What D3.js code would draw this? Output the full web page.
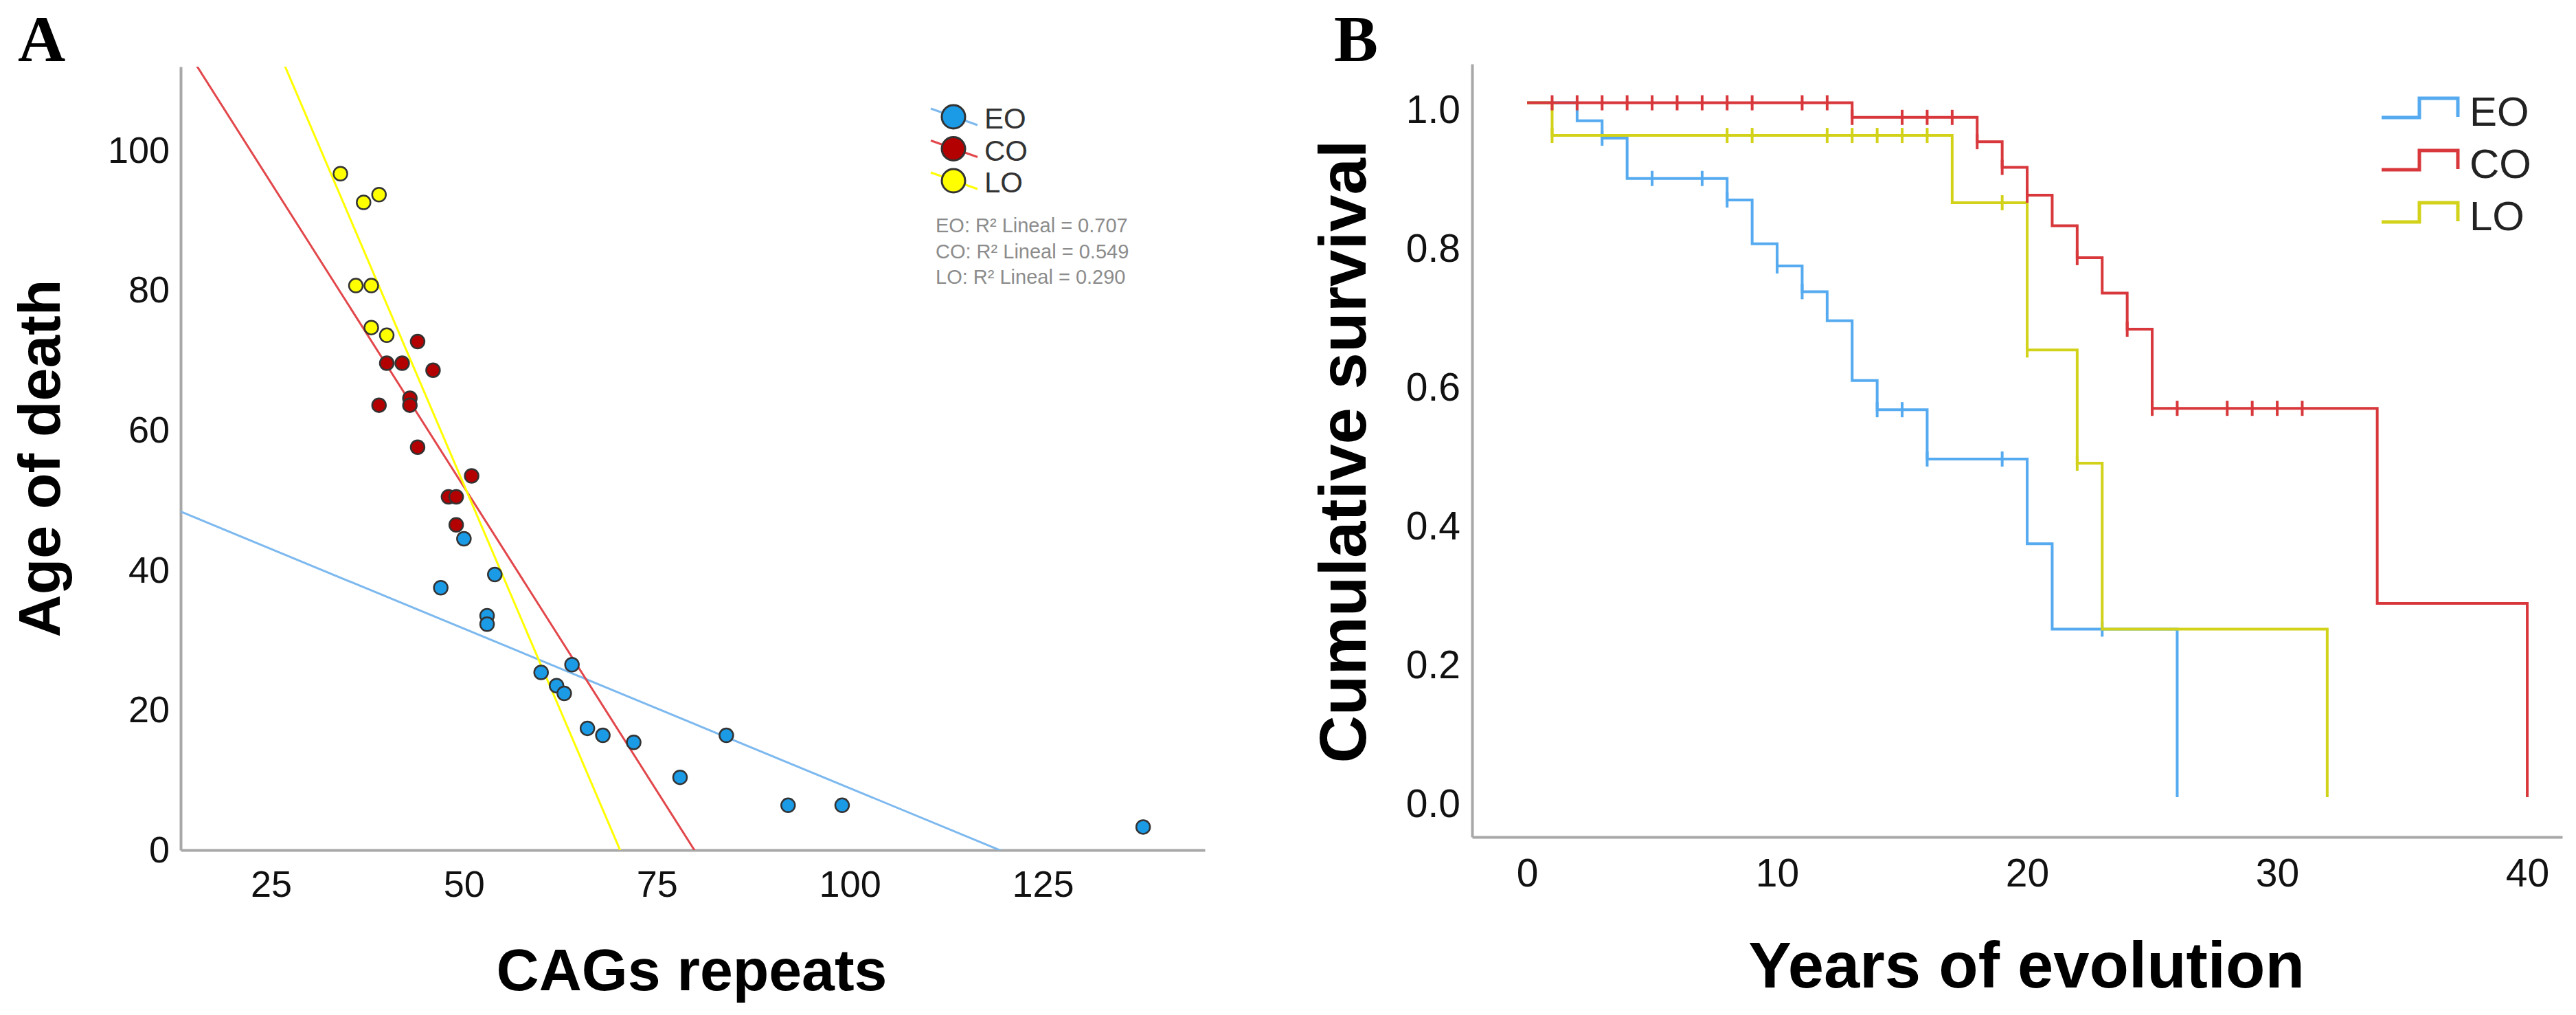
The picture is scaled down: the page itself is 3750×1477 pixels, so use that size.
<!DOCTYPE html>
<html>
<head>
<meta charset="utf-8">
<script src="https://cdn.jsdelivr.net/npm/d3@7"></script>
<style>
body { margin: 0; background: #fff; }
svg text { font-family: "Liberation Sans", Arial, sans-serif; }
</style>
</head>
<body>
<svg width="3750" height="1477"></svg>
<script>
// ---- Panel A data: CAG repeats vs age of death ----
let groupNames = ["EO", "CO", "LO"];

let eoCag = [50, 54, 47, 53, 53, 64, 60, 62, 63, 66, 68, 72, 84, 78, 92, 99, 138];
let eoAge = [44.5, 39.4, 37.5, 33.5, 32.3, 26.5, 25.4, 23.5, 22.4, 17.4, 16.4, 15.4, 16.4, 10.4, 6.4, 6.4, 3.3];

let coCag = [44, 40, 42, 46, 39, 43, 43, 44, 51, 48, 49, 49];
let coAge = [72.7, 69.6, 69.6, 68.6, 63.6, 64.6, 63.6, 57.6, 53.5, 50.5, 50.5, 46.5];

let loCag = [34, 37, 39, 36, 38, 38, 40];
let loAge = [96.7, 92.6, 93.7, 80.7, 80.7, 74.7, 73.6];

let r2Values = ["0.707", "0.549", "0.290"];

let cagTicks = [25, 50, 75, 100, 125];
let ageTicks = [0, 20, 40, 60, 80, 100];

// ---- Panel B data: Kaplan-Meier steps (time, survival after the step) ----
let eoTimes = [0, 2, 3, 4, 8, 9, 10, 11, 12, 13, 14, 16, 20, 21, 26];
let eoSurv = [1, 0.974, 0.949, 0.891, 0.86, 0.797, 0.765, 0.728, 0.686, 0.6, 0.558, 0.487, 0.365, 0.242, 0];
let eoCensor = [3, 5, 7, 8, 10, 11, 14, 15, 16, 19, 23];

let coTimes = [0, 13, 18, 19, 20, 21, 22, 23, 24, 25, 34, 40];
let coSurv = [1, 0.979, 0.944, 0.907, 0.867, 0.823, 0.777, 0.726, 0.674, 0.56, 0.279, 0];
let coCensor = [1, 2, 3, 4, 5, 6, 7, 8, 9, 11, 12, 13, 15, 16, 17, 18, 19, 20, 22, 24, 25, 26, 28, 29, 30, 31];

let loTimes = [0, 1, 17, 20, 22, 23, 32];
let loSurv = [1, 0.953, 0.856, 0.644, 0.481, 0.242, 0];
let loCensor = [1, 8, 9, 12, 13, 14, 15, 16, 19, 20, 22];

let yearTicks = [0, 10, 20, 30, 40];
let survTicks = [0, 0.2, 0.4, 0.6, 0.8, 1.0];

// colours
let dotColors = ["#1b9ae6", "#b30000", "#ffff00"];
let fitColors = ["#7db9ef", "#e2474b", "#ffff00"];
let kmColors = ["#55aaf0", "#d8383c", "#d2d21a"];

let svg = d3.select("svg");

function styleAxis(g, size) {
    g.attr("font-family", null).attr("font-size", null);
    g.select(".domain").attr("stroke", "#a8a8a8").attr("stroke-width", 4);
    g.selectAll("text").attr("font-size", size).attr("fill", "#111");
}

// least squares fit for the group lines
function fit(xs, ys) {
    let mx = d3.mean(xs), my = d3.mean(ys);
    let sxy = d3.sum(xs, function(x, i) { return (x - mx) * (ys[i] - my); });
    let sxx = d3.sum(xs, function(x) { return (x - mx) * (x - mx); });
    let slope = sxy / sxx;
    return {slope: slope, intercept: my - slope * mx};
}

// ================= Panel A =================
let xA = d3.scaleLinear().domain([13.3, 146]).range([263, 1754]);
let yA = d3.scaleLinear().domain([0, 112]).range([1237, 97]);

svg.append("g")
    .attr("transform", "translate(0,1237)")
    .call(d3.axisBottom(xA).tickValues(cagTicks).tickSize(0).tickPadding(30))
    .call(styleAxis, 54);

svg.append("g")
    .attr("transform", "translate(263,0)")
    .call(d3.axisLeft(yA).tickValues(ageTicks).tickSize(0).tickPadding(16))
    .call(styleAxis, 54);

svg.append("clipPath").attr("id", "clipA")
    .append("rect")
    .attr("x", xA.range()[0]).attr("y", yA.range()[1])
    .attr("width", xA.range()[1] - xA.range()[0])
    .attr("height", yA.range()[0] - yA.range()[1]);

let scatter = [
    {xs: eoCag, ys: eoAge},
    {xs: coCag, ys: coAge},
    {xs: loCag, ys: loAge}
];

// fit lines
let fitLines = svg.append("g").attr("clip-path", "url(#clipA)");
scatter.forEach(function(s, i) {
    let f = fit(s.xs, s.ys);
    let x0 = xA.domain()[0], x1 = xA.domain()[1];
    fitLines.append("line")
        .attr("x1", xA(x0)).attr("y1", yA(f.intercept + f.slope * x0))
        .attr("x2", xA(x1)).attr("y2", yA(f.intercept + f.slope * x1))
        .attr("stroke", fitColors[i])
        .attr("stroke-width", 3);
});

// points
scatter.forEach(function(s, i) {
    svg.append("g")
        .selectAll("circle")
        .data(s.xs)
        .enter()
        .append("circle")
        .attr("cx", function(d) { return xA(d); })
        .attr("cy", function(d, j) { return yA(s.ys[j]); })
        .attr("r", 10)
        .attr("fill", dotColors[i])
        .attr("stroke", "#333")
        .attr("stroke-width", 2.5);
});

// legend A
let legA = svg.append("g").attr("transform", "translate(1388,170)");
groupNames.forEach(function(name, i) {
    let row = legA.append("g").attr("transform", "translate(0," + (i * 46.5) + ")");
    row.append("line")
        .attr("x1", -33).attr("y1", -12).attr("x2", 35).attr("y2", 12)
        .attr("stroke", fitColors[i]).attr("stroke-width", 3);
    row.append("circle")
        .attr("r", 17)
        .attr("fill", dotColors[i])
        .attr("stroke", "#333").attr("stroke-width", 3);
    row.append("text")
        .attr("x", 45).attr("y", 17)
        .attr("font-size", 42)
        .attr("fill", "#333")
        .text(name);
});
groupNames.forEach(function(name, i) {
    svg.append("text")
        .attr("x", 1362).attr("y", 338 + i * 37.5)
        .attr("font-size", 29)
        .attr("fill", "#8c8c8c")
        .text(name + ": R\u00B2 Lineal = " + r2Values[i]);
});

// titles A
svg.append("text")
    .attr("transform", "translate(87,667) rotate(-90)")
    .attr("text-anchor", "middle")
    .attr("font-size", 86)
    .attr("font-weight", "bold")
    .text("Age of death");

svg.append("text")
    .attr("x", 1007).attr("y", 1441)
    .attr("text-anchor", "middle")
    .attr("font-size", 86)
    .attr("font-weight", "bold")
    .text("CAGs repeats");

svg.append("text")
    .attr("x", 26).attr("y", 89)
    .attr("font-size", 96)
    .attr("font-weight", "bold")
    .style("font-family", "'Liberation Serif', 'Times New Roman', serif")
    .text("A");

// ================= Panel B =================
let xB = d3.scaleLinear().domain([-2.2, 41.4]).range([2143, 3730]);
let yB = d3.scaleLinear().domain([-0.0574, 1.056]).range([1218, 93]);

svg.append("g")
    .attr("transform", "translate(0,1218)")
    .call(d3.axisBottom(xB).tickValues(yearTicks).tickSize(0).tickPadding(32))
    .call(styleAxis, 57);

let yAxisB = svg.append("g")
    .attr("transform", "translate(2143,0)")
    .call(d3.axisLeft(yB).tickValues(survTicks).tickFormat(d3.format(".1f")).tickSize(0).tickPadding(17))
    .call(styleAxis, 57);
yAxisB.selectAll("text").attr("dy", "0.5em");

let km = [
    {times: eoTimes, surv: eoSurv, censor: eoCensor},
    {times: coTimes, surv: coSurv, censor: coCensor},
    {times: loTimes, surv: loSurv, censor: loCensor}
];

function survAt(k, t) {
    let i = d3.bisectRight(k.times, t) - 1;
    return k.surv[Math.max(0, i)];
}

let stepLine = d3.line()
    .x(function(d) { return xB(d[0]); })
    .y(function(d) { return yB(d[1]); })
    .curve(d3.curveStepAfter);

// draw order: EO, LO, CO
[0, 2, 1].forEach(function(i) {
    let k = km[i];
    let g = svg.append("g");
    g.append("path")
        .datum(d3.zip(k.times, k.surv))
        .attr("d", stepLine)
        .attr("fill", "none")
        .attr("stroke", kmColors[i])
        .attr("stroke-width", 4);
    g.selectAll("line")
        .data(k.censor)
        .enter()
        .append("line")
        .attr("x1", function(d) { return xB(d); })
        .attr("x2", function(d) { return xB(d); })
        .attr("y1", function(d) { return yB(survAt(k, d)) - 11; })
        .attr("y2", function(d) { return yB(survAt(k, d)) + 11; })
        .attr("stroke", kmColors[i])
        .attr("stroke-width", 4);
});

// legend B
let legB = svg.append("g").attr("transform", "translate(3467,171)");
groupNames.forEach(function(name, i) {
    let row = legB.append("g").attr("transform", "translate(0," + (i * 76) + ")");
    row.append("path")
        .attr("d", "M0,0H55V-28H111V-1")
        .attr("fill", "none")
        .attr("stroke", kmColors[i])
        .attr("stroke-width", 5);
    row.append("text")
        .attr("x", 128).attr("y", 12)
        .attr("font-size", 60)
        .attr("fill", "#222")
        .text(name);
});

// titles B
svg.append("text")
    .attr("transform", "translate(1988,657) rotate(-90)")
    .attr("text-anchor", "middle")
    .attr("font-size", 96)
    .attr("font-weight", "bold")
    .text("Cumulative survival");

svg.append("text")
    .attr("x", 2950).attr("y", 1437)
    .attr("text-anchor", "middle")
    .attr("font-size", 94)
    .attr("font-weight", "bold")
    .text("Years of evolution");

svg.append("text")
    .attr("x", 1942).attr("y", 89)
    .attr("font-size", 96)
    .attr("font-weight", "bold")
    .style("font-family", "'Liberation Serif', 'Times New Roman', serif")
    .text("B");
</script>
</body>
</html>
